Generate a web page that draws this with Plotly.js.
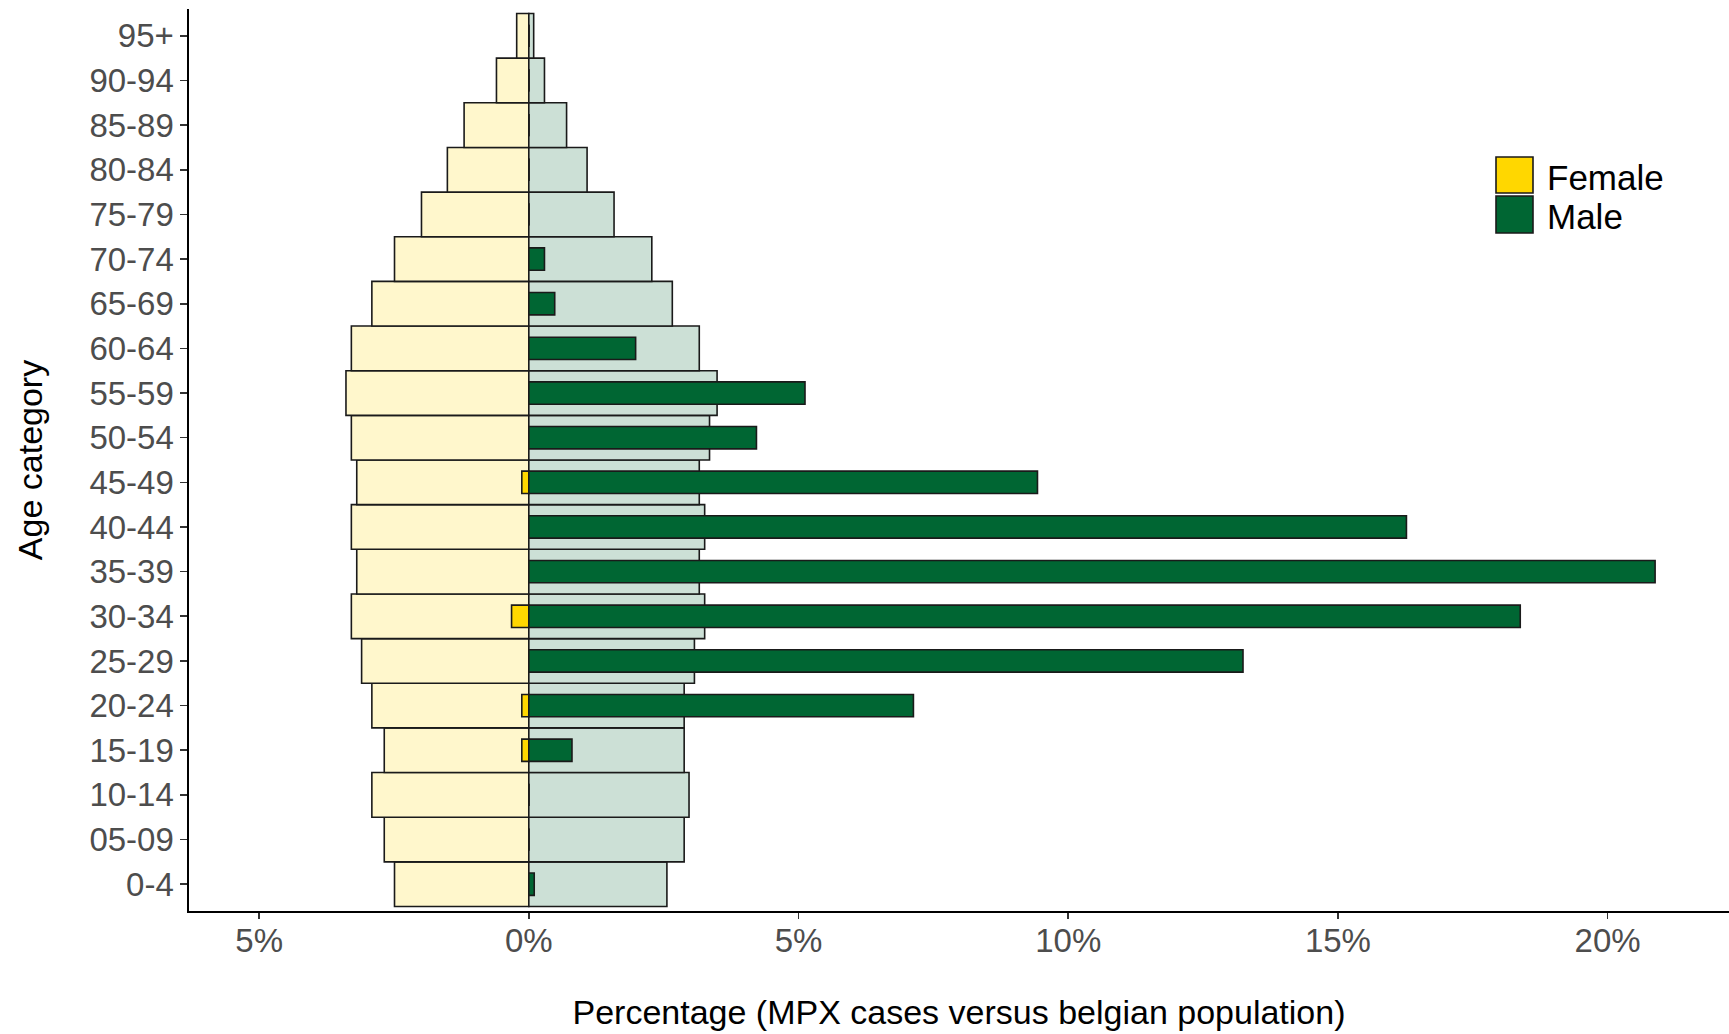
<!DOCTYPE html>
<html>
<head>
<meta charset="utf-8">
<script src="https://cdn.plot.ly/plotly-3.0.1.min.js"></script>
<style>
  html, body { margin: 0; padding: 0; background: #fff; }
  #chart { width: 1729px; height: 1034px; }
</style>
</head>
<body>
<div id="chart"></div>
<script>
// Age categories, bottom to top
const ageCategories = ["0-4","05-09","10-14","15-19","20-24","25-29","30-34","35-39","40-44","45-49",
                       "50-54","55-59","60-64","65-69","70-74","75-79","80-84","85-89","90-94","95+"];

// Belgian population share (%) by age and sex
const popFemale = [2.49, 2.68, 2.91, 2.68, 2.91, 3.10, 3.29, 3.19, 3.29, 3.19,
                   3.29, 3.39, 3.29, 2.91, 2.49, 1.99, 1.51, 1.20, 0.60, 0.225];
const popMale   = [2.56, 2.88, 2.97, 2.88, 2.88, 3.07, 3.26, 3.16, 3.26, 3.16,
                   3.35, 3.49, 3.16, 2.66, 2.28, 1.58, 1.08, 0.70, 0.29, 0.09];

// MPX cases share (%) by age and sex
const casesFemale = [0, 0, 0, 0.13, 0.13, 0, 0.32, 0, 0, 0.13,
                     0, 0, 0, 0, 0, 0, 0, 0, 0, 0];
const casesMale   = [0.10, 0, 0, 0.80, 7.13, 13.24, 18.38, 20.88, 16.27, 9.43,
                     4.22, 5.12, 1.98, 0.48, 0.29, 0, 0, 0, 0, 0];

const xTickVals = [-5, 0, 5, 10, 15, 20];
const xTickText = ["5%", "0%", "5%", "10%", "15%", "20%"];

const FONT = "Liberation Sans, Arial, sans-serif";
const femaleCol = "#FFD700", maleCol = "#006633";
const femaleBg = "#FFF7CC", maleBg = "#CCE0D6";

const neg = a => a.map(v => -v);

const traces = [
  { type: "bar", orientation: "h", y: ageCategories, x: neg(popFemale), width: 1.0,
    marker: { color: femaleBg, line: { color: "#1a1a1a", width: 1.6 } }, showlegend: false, name: "Female pop" },
  { type: "bar", orientation: "h", y: ageCategories, x: popMale, width: 1.0,
    marker: { color: maleBg, line: { color: "#1a1a1a", width: 1.6 } }, showlegend: false, name: "Male pop" },
  { type: "bar", orientation: "h", y: ageCategories, x: neg(casesFemale), width: 0.5,
    marker: { color: femaleCol, line: { color: "#1a1a1a", width: 1.6 } }, name: "Female", showlegend: false },
  { type: "bar", orientation: "h", y: ageCategories, x: casesMale, width: 0.5,
    marker: { color: maleCol, line: { color: "#1a1a1a", width: 1.6 } }, name: "Male", showlegend: false }
];

// plot area in pixels
const L = 189, R = 1729, T = 9, B = 911;
const px = x => (x - L) / (R - L);
const py = y => (B - y) / (B - T);

const legendItems = [
  { label: "Female", color: femaleCol, top: 157, bottom: 193, textY: 177 },
  { label: "Male", color: maleCol, top: 196, bottom: 233, textY: 216 }
];

const shapes = legendItems.map(it => ({
  type: "rect", xref: "paper", yref: "paper",
  x0: px(1496), x1: px(1533), y0: py(it.bottom), y1: py(it.top),
  fillcolor: it.color, line: { color: "#1a1a1a", width: 1.6 }
}));
const annotations = legendItems.map(it => ({
  xref: "paper", yref: "paper", x: px(1545), y: py(it.textY),
  xanchor: "left", yanchor: "middle", showarrow: false,
  text: it.label, font: { family: FONT, size: 35, color: "#000" }
}));

const layout = {
  width: 1729, height: 1034,
  margin: { l: L, r: 1729 - R, t: T, b: 1034 - B },
  paper_bgcolor: "#fff", plot_bgcolor: "#fff",
  barmode: "overlay",
  bargap: 0,
  font: { family: FONT },
  xaxis: {
    range: [-6.3, 22.25],
    tickvals: xTickVals, ticktext: xTickText,
    showgrid: false, zeroline: false,
    showline: true, linecolor: "#000", linewidth: 1.6,
    ticks: "outside", ticklen: 6, tickwidth: 1.6, tickcolor: "#333",
    ticklabelstandoff: -6,
    tickfont: { family: FONT, size: 33, color: "#4D4D4D" },
    title: { text: "Percentage (MPX cases versus belgian population)",
             font: { family: FONT, size: 34, color: "#000" }, standoff: 42 },
    fixedrange: true
  },
  yaxis: {
    type: "category",
    categoryorder: "array", categoryarray: ageCategories,
    range: [-0.6, 19.6],
    showgrid: false, zeroline: false,
    showline: true, linecolor: "#000", linewidth: 1.6,
    ticks: "outside", ticklen: 7, tickwidth: 1.6, tickcolor: "#333",
    tickfont: { family: FONT, size: 33, color: "#4D4D4D" },
    title: { text: "Age category", font: { family: FONT, size: 34, color: "#000" }, standoff: 36 },
    fixedrange: true
  },
  shapes: shapes,
  annotations: annotations,
  showlegend: false
};

Plotly.newPlot("chart", traces, layout, { displayModeBar: false, staticPlot: true });
</script>
</body>
</html>
